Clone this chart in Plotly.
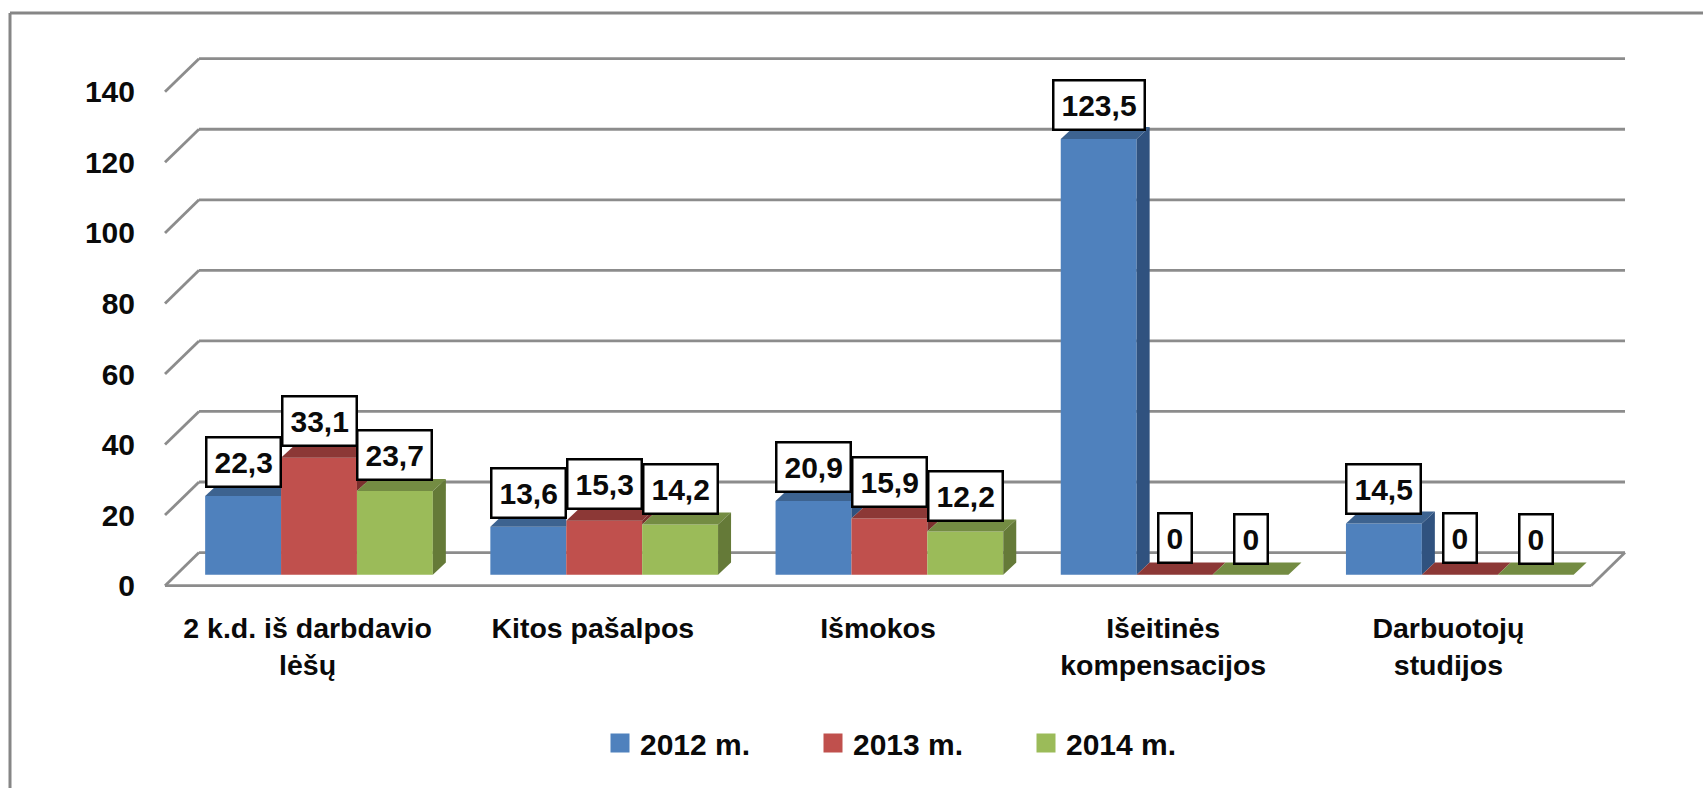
import plotly.graph_objects as go

categories = ["2 k.d. iš darbdavio<br>lėšų", "Kitos pašalpos", "Išmokos", "Išeitinės<br>kompensacijos", "Darbuotojų<br>studijos"]
series_names = ["2012 m.", "2013 m.", "2014 m."]
values_2012 = [22.3, 13.6, 20.9, 123.5, 14.5]
values_2013 = [33.1, 15.3, 15.9, 0, 0]
values_2014 = [23.7, 14.2, 12.2, 0, 0]
y_ticks = [0, 20, 40, 60, 80, 100, 120, 140]

front_colors = ["#4F81BD", "#C0504D", "#9BBB59"]
top_colors = ["#3D6390", "#8C3836", "#748C43"]
side_colors = ["#30527F", "#7A2F2D", "#657A38"]
label_lift = [8, 11, 10]

W, H = 1703, 788
HP = 703  # height of the paper area left once the legend has reserved its room
FONT = "Liberation Sans"
INK = "#0a0a0a"
GRID = "#8c8c8c"
all_values = [values_2012, values_2013, values_2014]

# pixel geometry of the pseudo-3D frame
px_x = 285.2
px_y = 3.5175
left_px, right_px, bottom_px, top_px = 160, 1640, 588, 54
y0_px = 584
xmin = -0.5 - 5 / px_x
xmax = xmin + (right_px - left_px) / px_x
ymin = -(bottom_px - y0_px) / px_y
ymax = (y0_px - top_px) / px_y
wall_dx, wall_dy = 34 / px_x, 33 / px_y
bar_dx, bar_dy = 13 / px_x, 12 / px_y
floor = 11 / px_y
bar_w = 75.9 / px_x
shift = 11.4 / px_x

fig = go.Figure()

# front faces
for s, vals in enumerate(all_values):
    fig.add_trace(go.Bar(
        x=[i + shift + (s - 1) * bar_w for i in range(5)], y=vals, base=[floor] * 5, width=bar_w,
        marker=dict(color=front_colors[s], line=dict(width=0)), showlegend=False, hoverinfo="skip"))

# top and side faces
for i in range(5):
    for s in range(3):
        t = all_values[s][i] + floor
        xl = i + shift + (s - 1.5) * bar_w
        xr = xl + bar_w
        nxt = all_values[s + 1][i] + floor if s < 2 else floor
        if nxt > t:
            tx = [xl, xr, xr, xl + bar_dx, xl]
            ty = [t, t, t + bar_dy, t + bar_dy, t]
        else:
            tx = [xl, xr, xr + bar_dx, xl + bar_dx, xl]
            ty = [t, t, t + bar_dy, t + bar_dy, t]
        fig.add_trace(go.Scatter(x=tx, y=ty, mode="lines", line=dict(width=0), fill="toself",
                                 fillcolor=top_colors[s], showlegend=False, hoverinfo="skip"))
        if t > nxt:
            fig.add_trace(go.Scatter(
                x=[xr, xr + bar_dx, xr + bar_dx, xr, xr],
                y=[t, t + bar_dy, nxt + bar_dy, nxt, t],
                mode="lines", line=dict(width=0), fill="toself",
                fillcolor=side_colors[s], showlegend=False, hoverinfo="skip"))

# legend entries
for s, name in enumerate(series_names):
    fig.add_trace(go.Scatter(x=[None], y=[None], mode="markers", name=name,
                             marker=dict(symbol="square", size=16, color=front_colors[s],
                                         line=dict(width=3, color=front_colors[s]))))

shapes = []
x0, x1 = -0.5, 4.5
line = dict(color=GRID, width=2.8)
for v in y_ticks:
    shapes.append(dict(type="line", layer="below", x0=x0, y0=v, x1=x0 + wall_dx, y1=v + wall_dy, line=line))
    shapes.append(dict(type="line", layer="below", x0=x0 + wall_dx, y0=v + wall_dy, x1=x1 + wall_dx, y1=v + wall_dy, line=line))
shapes.append(dict(type="line", layer="below", x0=x0, y0=0, x1=x1, y1=0, line=line))
shapes.append(dict(type="line", layer="below", x0=x1, y0=0, x1=x1 + wall_dx, y1=wall_dy, line=line))
# picture frame (open on the right and bottom)
frame = dict(color="#868686", width=3)
top_line = 1 - 13 / HP
shapes.append(dict(type="line", xref="paper", yref="paper", x0=10 / W, y0=top_line, x1=1, y1=top_line, line=frame))
shapes.append(dict(type="line", xref="paper", yref="paper", x0=10 / W, y0=top_line, x1=10 / W, y1=1 - H / HP, line=frame))

annotations = []
for s, vals in enumerate(all_values):
    for i, v in enumerate(vals):
        annotations.append(dict(
            x=i + shift + (s - 1) * bar_w, y=v + floor, yanchor="bottom", xanchor="center",
            yshift=label_lift[s], showarrow=False,
            text=f"{v:.1f}".replace(".", ",") if v else "0",
            font=dict(family=FONT, size=30, color=INK, weight="bold"),
            bgcolor="white", bordercolor="#000000", borderwidth=2.5, borderpad=7))

fig.update_layout(
    width=W, height=H, autosize=False,
    margin=dict(l=0, r=0, t=0, b=0),
    paper_bgcolor="white", plot_bgcolor="rgba(0,0,0,0)",
    barmode="overlay",
    shapes=shapes, annotations=annotations,
    font=dict(family=FONT, size=27, color=INK, weight="bold"),
    xaxis=dict(domain=[left_px / W, right_px / W], range=[xmin, xmax],
               tickmode="array", tickvals=list(range(5)), ticktext=categories,
               showgrid=False, zeroline=False, showline=False, ticks="", ticklabelstandoff=19,
               tickfont=dict(family=FONT, size=28.5, color=INK, weight="bold")),
    yaxis=dict(domain=[1 - bottom_px / HP, 1 - top_px / HP], range=[ymin, ymax],
               tickmode="array", tickvals=y_ticks,
               showgrid=False, zeroline=False, showline=False, ticks="", ticklabelstandoff=24,
               tickfont=dict(family=FONT, size=30, color=INK, weight="bold")),
    legend=dict(orientation="h", xref="container", yref="container",
                x=600 / W, xanchor="left", y=1 - 743 / H, yanchor="middle",
                entrywidth=168, entrywidthmode="pixels", itemsizing="trace",
                font=dict(family=FONT, size=30, color=INK, weight="bold"), bgcolor="rgba(0,0,0,0)"),
)

fig.write_html("out.html", config={"displayModeBar": False},
               post_script="document.body.style.margin='0';document.body.style.overflow='hidden';")
